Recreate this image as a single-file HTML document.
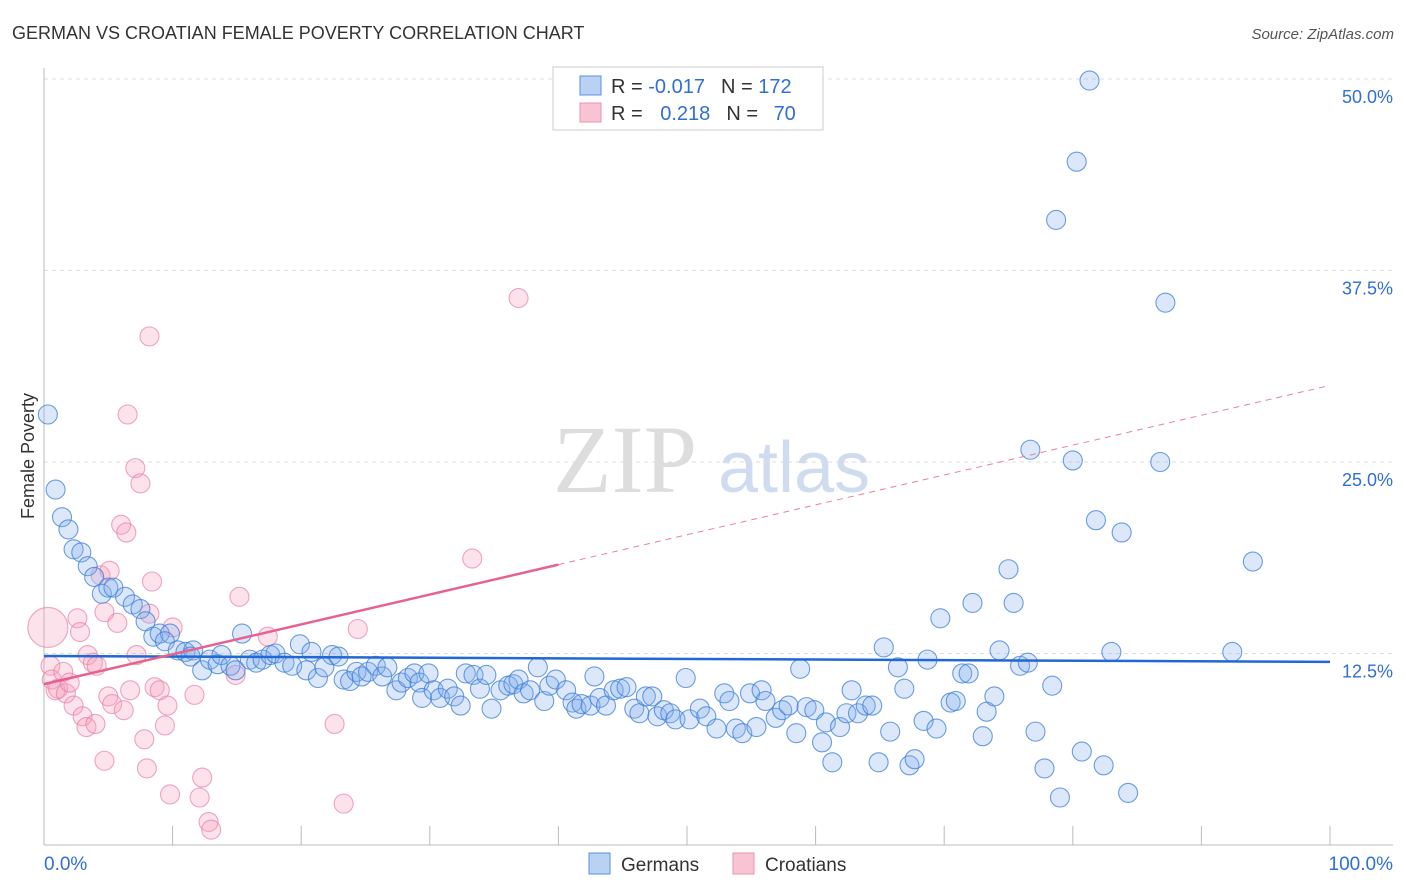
<!DOCTYPE html>
<html><head><meta charset="utf-8">
<style>
body{margin:0;background:#fff;font-family:"Liberation Sans",sans-serif;}
svg{display:block}
</style></head><body>
<svg id="chart" width="1406" height="892" viewBox="0 0 1406 892" xmlns="http://www.w3.org/2000/svg">
<text x="12" y="39" font-size="18" fill="#333">GERMAN VS CROATIAN FEMALE POVERTY CORRELATION CHART</text>
<text x="1394" y="39" font-size="15" fill="#555" font-style="italic" text-anchor="end">Source: ZipAtlas.com</text>
<g>
<text x="553" y="492" font-size="96" font-family="Liberation Serif,serif" fill="#ddd">ZIP</text>
<text x="718" y="492" font-size="72" fill="#cfdcf0">atlas</text>
</g>
<g id="grid"></g>
<g id="axes"></g>
<g id="marks"></g>
<g>
<rect x="553" y="67" width="270" height="63" fill="#fff" stroke="#ccc"/>
<rect x="580" y="76" width="21" height="19" fill="#b9d1f3" stroke="#5b8fe0"/>
<rect x="580" y="103" width="21" height="19" fill="#f8c4d4" stroke="#ea90ad"/>
<text x="611" y="93" font-size="20" fill="#333">R = <tspan fill="#2f6fd6">-0.017</tspan><tspan dx="16">N = </tspan><tspan fill="#2f6fd6">172</tspan></text>
<text x="611" y="120" font-size="20" fill="#333">R = <tspan fill="#2f6fd6" dx="12">0.218</tspan><tspan dx="16">N = </tspan><tspan fill="#2f6fd6" dx="10">70</tspan></text>
</g>
<g>
<rect x="589" y="853" width="21" height="21" fill="#b9d1f3" stroke="#5b8fe0"/>
<text x="621" y="871" font-size="19" fill="#333">Germans</text>
<rect x="733" y="853" width="21" height="21" fill="#f8c4d4" stroke="#ea90ad"/>
<text x="765" y="871" font-size="19" fill="#333">Croatians</text>
</g>
<text transform="translate(34,456) rotate(-90)" font-size="18" fill="#333" text-anchor="middle">Female Poverty</text>
</svg>
<script>
const yTicks=[12.5,25,37.5,50];
const yTickLabels=["12.5%","25.0%","37.5%","50.0%"];
const xTickLabels=["0.0%","100.0%"];
const germanX=[0.3,0.9,1.4,1.9,2.3,2.9,3.4,3.9,4.5,5.0,5.4,6.3,6.9,7.5,7.9,8.5,9.0,9.8,9.4,10.4,11.0,11.6,11.4,12.3,12.9,13.5,13.8,14.5,14.9,15.4,16.0,16.5,17.0,17.6,18.0,18.7,19.3,19.9,20.4,20.8,21.3,21.8,22.4,22.9,23.3,23.8,24.3,24.7,25.2,25.8,26.3,26.7,27.4,27.8,28.3,28.8,29.2,29.9,29.4,30.3,30.8,31.4,31.9,32.4,32.8,33.4,33.9,34.4,34.8,35.5,36.1,36.5,36.9,37.3,37.8,38.4,38.9,39.3,39.8,40.6,41.1,41.4,41.8,42.5,42.8,43.2,43.7,44.3,44.8,45.3,45.9,46.3,46.8,47.3,47.7,48.2,48.7,49.1,49.9,50.2,51.0,51.5,52.3,52.9,53.3,53.8,54.3,54.9,55.4,55.8,56.1,56.9,57.4,57.9,58.5,58.8,59.3,59.9,60.5,60.8,61.3,61.9,62.4,62.8,63.3,63.9,64.4,64.9,65.3,65.8,66.4,66.9,67.3,67.7,68.4,68.7,69.4,69.7,70.5,70.9,71.4,71.9,72.2,73.0,73.3,73.9,74.3,75.0,75.4,75.9,76.5,76.7,77.1,77.8,78.4,78.7,79.0,80.0,80.3,80.7,81.3,81.8,82.4,83.0,83.8,84.3,86.8,87.2,92.4,94.0];
const germanY=[28.1,23.2,21.4,20.6,19.3,19.1,18.2,17.5,16.4,16.8,16.8,16.2,15.7,15.4,14.6,13.6,13.8,13.8,13.3,12.7,12.6,12.7,12.3,11.4,12.1,11.8,12.4,11.7,11.4,13.8,12.1,11.9,12.1,12.4,12.5,11.9,11.7,13.1,11.4,12.6,10.9,11.6,12.4,12.3,10.8,10.7,11.3,11.0,11.3,11.7,11.0,11.6,10.1,10.6,10.9,11.2,10.6,11.2,9.6,10.1,9.6,10.2,9.7,9.1,11.2,11.1,10.2,11.1,8.9,10.1,10.4,10.5,10.8,9.9,10.1,11.6,9.4,10.4,10.8,10.1,9.3,8.9,9.2,9.1,11.0,9.6,9.1,10.1,10.2,10.3,8.9,8.6,9.7,9.7,8.4,8.8,8.6,8.2,10.9,8.2,8.9,8.4,7.6,9.9,9.4,7.6,7.3,9.9,7.7,10.1,9.4,8.3,8.8,9.1,7.3,11.5,9.0,8.8,6.7,8.0,5.4,7.7,8.6,10.1,8.6,9.1,9.1,5.4,12.9,7.4,11.6,10.2,5.2,5.6,8.1,12.1,7.6,14.8,9.3,9.4,11.2,11.2,15.8,7.1,8.7,9.7,12.7,18.0,15.8,11.7,11.9,25.8,7.4,5.0,10.4,40.8,3.1,25.1,44.6,6.1,49.9,21.2,5.2,12.6,20.4,3.4,25.0,35.4,12.6,18.5];
const croatX=[0.3,0.5,0.6,0.9,1.1,1.5,1.7,2.0,2.3,2.6,2.8,3.0,3.3,3.4,3.8,4.0,4.1,4.4,4.7,5.0,4.7,5.1,5.3,5.7,6.0,6.2,6.4,6.5,6.7,7.1,7.2,7.5,7.8,8.0,8.2,8.2,8.4,8.6,9.0,9.4,9.6,9.8,10.0,11.7,12.1,12.3,12.8,13.0,14.9,15.2,17.4,22.6,23.3,24.4,33.3,36.9];
const croatY=[14.2,11.7,10.8,10.1,10.2,11.3,9.9,10.6,9.1,14.8,13.9,8.4,7.7,12.4,11.9,7.9,11.7,17.6,15.2,9.7,5.5,17.9,9.2,14.5,20.9,8.8,20.4,28.1,10.1,24.6,12.4,23.6,6.9,5.0,33.2,15.1,17.2,10.3,10.1,7.8,9.1,3.3,14.2,9.8,3.1,4.4,1.5,1.0,11.1,16.2,13.6,7.9,2.7,14.1,18.7,35.7];
const germanFit=[12.34,11.95];
const croatFit=[10.5,30.0];
const NS='http://www.w3.org/2000/svg';
const X0=44,X1=1330,Y0=845,PPY=15.32;
function sx(v){return X0+(X1-X0)*v/100;}
function sy(v){return Y0-v*PPY;}
function mk(tag,attrs,parent){const e=document.createElementNS(NS,tag);for(const k in attrs)e.setAttribute(k,attrs[k]);parent.appendChild(e);return e;}
const grid=document.getElementById('grid'),axes=document.getElementById('axes'),marks=document.getElementById('marks');
yTicks.forEach((t,i)=>{
 const l=mk('line',{x1:X0,x2:1393,y1:sy(t),y2:sy(t),stroke:'#ddd','stroke-dasharray':'4,4'},grid);
 
 
 const tx=mk('text',{x:1393,y:sy(t)+24,'font-size':18,fill:'#2f6fd6','text-anchor':'end'},axes);
 tx.textContent=yTickLabels[i];
 
 
});
const la=mk('line',{x1:X0,x2:X0,y1:68,y2:Y0,stroke:'#bbb'},axes);


const ba=mk('line',{x1:X0,x2:1393,y1:Y0,y2:Y0,stroke:'#bbb'},axes);


for(let i=0;i<=10;i++){
 const t=mk('line',{x1:sx(i*10),x2:sx(i*10),y1:826,y2:Y0,stroke:'#bbb'},axes);
 
 
}
const xl0=mk('text',{x:44,y:870,'font-size':19,fill:'#2f6fd6'},axes);xl0.textContent=xTickLabels[0];


const xl1=mk('text',{x:1393,y:870,'font-size':19,fill:'#2f6fd6','text-anchor':'end'},axes);xl1.textContent=xTickLabels[1];


croatX.forEach((x,i)=>{
 const c=mk('circle',{cx:sx(x),cy:sy(croatY[i]),r:i===0?20:9.5,fill:'rgba(244,160,188,0.3)',stroke:'rgba(232,128,164,0.7)','stroke-width':1.1},marks);
 
 
});
germanX.forEach((x,i)=>{
 const c=mk('circle',{cx:sx(x),cy:sy(germanY[i]),r:9.5,fill:'rgba(130,172,238,0.28)',stroke:'rgba(60,125,215,0.75)','stroke-width':1.1},marks);
 
 
});
const gl=mk('line',{x1:sx(0),y1:sy(germanFit[0]),x2:sx(100),y2:sy(germanFit[1]),stroke:'#2168d4','stroke-width':2.5},marks);


const cAt=v=>croatFit[0]+(croatFit[1]-croatFit[0])*v/100;
const cl=mk('line',{x1:sx(0),y1:sy(cAt(0)),x2:sx(40),y2:sy(cAt(40)),stroke:'#e8608c','stroke-width':2.5},marks);


const cd=mk('line',{x1:sx(40),y1:sy(cAt(40)),x2:sx(100),y2:sy(cAt(100)),stroke:'#e8809f','stroke-width':1,'stroke-dasharray':'6,5'},marks);


</script>
</body></html>
